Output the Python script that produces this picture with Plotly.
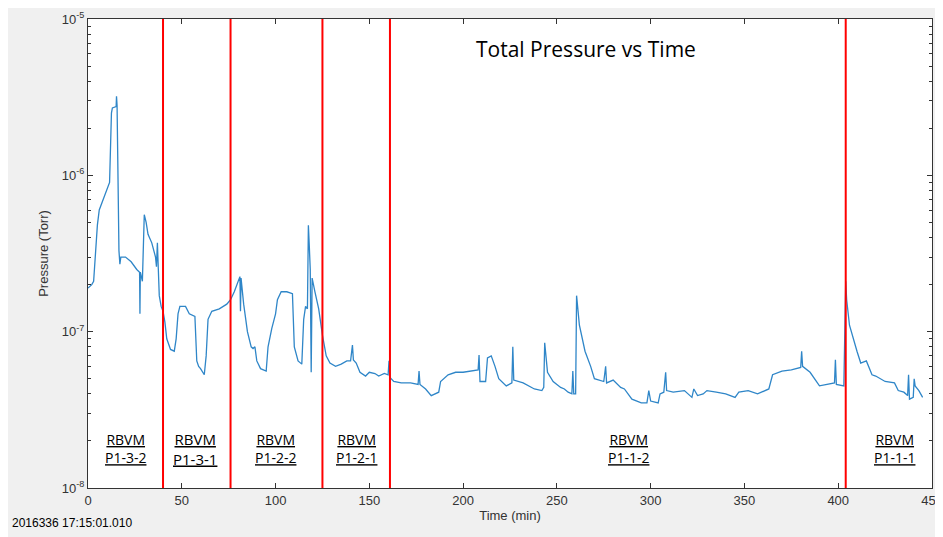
import plotly.graph_objects as go

# time (min) and total pressure (Torr)
time_min = [0, 2, 3, 4, 5, 6, 8, 10, 11.5, 12.5, 13, 15, 15.2, 15.5, 16.5, 17, 17.5, 20, 23, 26, 27.5, 27.7, 27.9,
            29, 30, 31, 32, 34, 36, 36.5, 37, 37.5, 38, 39, 40, 41, 42, 44, 46, 47, 48, 49, 52, 54, 57, 58, 59,
            60, 62, 63, 64, 66, 70, 74, 76, 78, 80, 81, 81.3, 81.6, 83, 85, 87, 88, 89, 90, 92, 95, 96, 98, 100,
            101, 103, 106, 109, 110, 112, 114, 115, 116, 117, 117.5, 118, 118.5, 119, 119.5, 121, 123, 125, 127,
            129, 132, 135, 138, 140, 141, 141.5, 143, 145, 148, 150, 153, 155, 158, 160, 160.5, 161, 163, 167,
            172, 176, 176.5, 177, 180, 183, 187, 188, 192, 196, 200, 208, 208.5, 209, 212, 213, 215, 217, 219,
            223, 226, 226.5, 227, 232, 238, 242, 243, 243.5, 245, 248, 252, 254, 256, 258, 258.5, 259, 260,
            260.5, 262, 265, 268, 270, 275, 276, 276.5, 280, 284, 286, 290, 295, 298, 299, 300, 304, 305,
            307, 308, 308.5, 312, 318, 322, 323, 325, 328, 330, 335, 340, 345, 347, 352, 357, 363, 365, 370,
            375, 380, 380.5, 381, 385, 390, 395, 398, 398.5, 399, 403, 404, 404.5, 406, 410, 412, 415, 418,
            420, 425, 430, 432, 435, 437, 437.5, 438, 440, 440.5, 441, 443, 445]
pressure = [1.9e-7, 2.0e-7, 2.1e-7, 3.5e-7, 4.8e-7, 6e-7, 7e-7, 8e-7, 9e-7, 2.5e-6, 2.7e-6, 2.75e-6, 3.2e-6,
            2.8e-6, 3.3e-7, 2.7e-7, 3.0e-7, 3.0e-7, 2.8e-7, 2.5e-7, 2.4e-7, 1.3e-7, 2.4e-7,
            2.1e-7, 5.6e-7, 5e-7, 4.2e-7, 3.7e-7, 3.0e-7, 2.6e-7, 3.7e-7, 2.5e-7, 1.7e-7, 1.45e-7, 1.35e-7,
            1.15e-7, 9e-8, 7.7e-8, 7.5e-8, 9e-8, 1.3e-7, 1.45e-7, 1.45e-7, 1.3e-7, 1.25e-7, 6.5e-8, 6.0e-8,
            5.8e-8, 5.3e-8, 7e-8, 1.2e-7, 1.35e-7, 1.4e-7, 1.5e-7, 1.6e-7, 1.8e-7, 2.1e-7, 2.25e-7, 1.35e-7,
            2.2e-7, 1.5e-7, 1e-7, 8e-8, 7.8e-8, 8e-8, 6.5e-8, 5.8e-8, 5.6e-8, 8e-8, 1.05e-7, 1.3e-7,
            1.6e-7, 1.8e-7, 1.8e-7, 1.75e-7, 8e-8, 6.5e-8, 6.2e-8, 1.2e-7, 1.45e-7, 1.4e-7, 4.8e-7, 3.5e-7,
            2.5e-7, 5.5e-8, 2.2e-7, 1.8e-7, 1.4e-7, 9.5e-8, 7e-8,
            6.3e-8, 6.0e-8, 6.2e-8, 6.5e-8, 6.5e-8, 8.2e-8, 6.6e-8, 6.3e-8, 5.5e-8, 5.2e-8, 5.5e-8, 5.4e-8,
            5.2e-8, 5.4e-8, 5.3e-8, 6.5e-8, 5.1e-8, 4.8e-8, 4.7e-8,
            4.7e-8, 4.6e-8, 5.6e-8, 4.6e-8, 4.3e-8, 3.9e-8, 4.1e-8, 4.8e-8, 5.3e-8, 5.5e-8, 5.5e-8, 5.7e-8,
            7.1e-8, 4.8e-8, 4.8e-8, 6.8e-8, 7e-8, 6e-8, 5e-8,
            4.5e-8, 4.7e-8, 8e-8, 4.9e-8, 4.7e-8, 4.3e-8, 4.2e-8, 4.4e-8, 8.5e-8, 5.5e-8, 4.8e-8, 4.4e-8,
            4.3e-8, 4.1e-8, 4.0e-8, 5.6e-8, 4.0e-8, 4.0e-8,
            1.7e-7, 1.1e-7, 7.5e-8, 6.0e-8, 5.0e-8, 4.8e-8, 6.0e-8, 4.7e-8, 4.9e-8, 4.4e-8, 4.3e-8, 3.7e-8,
            3.5e-8, 3.5e-8, 4.2e-8, 3.6e-8, 3.5e-8, 4.0e-8,
            4.1e-8, 5.5e-8, 4.2e-8, 4.1e-8, 4.2e-8, 3.8e-8, 4.3e-8, 3.9e-8, 4.0e-8, 4.2e-8, 4.1e-8, 4.0e-8,
            3.8e-8, 4.1e-8, 4.2e-8, 4.0e-8, 4.3e-8, 5.3e-8, 5.6e-8,
            5.7e-8, 5.9e-8, 7.5e-8, 6.0e-8, 5.5e-8, 4.5e-8, 4.6e-8, 4.7e-8, 6.6e-8, 4.6e-8, 4.5e-8, 2.1e-7,
            1.6e-7, 1.1e-7, 7.5e-8, 6.3e-8, 6.5e-8, 5.3e-8,
            5.2e-8, 4.8e-8, 4.7e-8, 4.2e-8, 4.1e-8, 3.9e-8, 5.3e-8, 3.7e-8, 3.8e-8, 5.0e-8, 4.5e-8, 4.2e-8,
            3.8e-8]

boundaries = [40, 76, 125, 161, 404]
label_x = [20, 57, 100, 143, 288, 430]
label_text = ["RBVM<br>P1-3-2", "RBVM<br>P1-3-1", "RBVM<br>P1-2-2", "RBVM<br>P1-2-1", "RBVM<br>P1-1-2",
              "RBVM<br>P1-1-1"]
ytick_vals = [1e-8, 1e-7, 1e-6, 1e-5]
ytick_text = ["10<sup>-8</sup>", "10<sup>-7</sup>", "10<sup>-6</sup>", "10<sup>-5</sup>"]

fig = go.Figure()
fig.add_trace(go.Scatter(x=time_min, y=pressure, mode="lines",
                         line=dict(color="#2f86c8", width=1.3), showlegend=False))

for b in boundaries:
    fig.add_shape(type="line", x0=b, x1=b, y0=0, y1=1, yref="paper",
                  line=dict(color="#ff0000", width=2))

for i, (lx, lt) in enumerate(zip(label_x, label_text)):
    bold = i == 1
    txt = "<br>".join("<u>%s</u>" % s for s in lt.split("<br>"))
    fig.add_annotation(x=lx, y=-7.75, text=txt, showarrow=False,
                       font=dict(family="Open Sans", size=15 if bold else 14, color="black"))

fig.add_annotation(x=0.59, y=0.97, xref="paper", yref="paper", text="Total Pressure vs Time",
                   showarrow=False, font=dict(family="Open Sans", size=21, color="black"))
fig.add_annotation(x=-0.092, y=-0.093, xref="paper", yref="paper", xanchor="left",
                   text="2016336 17:15:01.010", showarrow=False,
                   font=dict(family="Liberation Sans", size=12, color="black"))

axis_common = dict(showline=True, linecolor="#333", linewidth=1, mirror="ticks", ticks="inside",
                   ticklen=5, tickcolor="#333", showgrid=False, zeroline=False, automargin=False,
                   tickfont=dict(family="Liberation Sans", size=13, color="#333"))
fig.update_xaxes(range=[0, 450], dtick=50, title=dict(text="Time (min)", standoff=4,
                 font=dict(family="Liberation Sans", size=13, color="#333")), **axis_common)
fig.update_yaxes(type="log", range=[-8, -5], tickvals=ytick_vals, ticktext=ytick_text,
                 minor=dict(ticks="inside", ticklen=3, tickcolor="#333", dtick="D1"),
                 title=dict(text="Pressure (Torr)", standoff=10,
                            font=dict(family="Liberation Sans", size=13, color="#333")), **axis_common)

fig.update_layout(width=943, height=537, paper_bgcolor="#f0f0f0", plot_bgcolor="white",
                  margin=dict(l=80, r=19, t=11, b=57))
fig.write_html("out.html")
